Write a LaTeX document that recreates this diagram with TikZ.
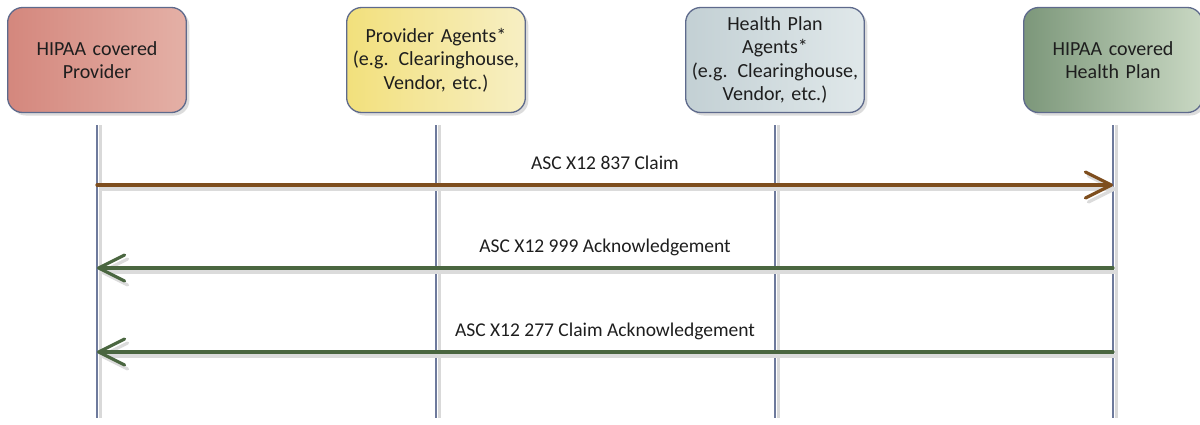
\documentclass[tikz,border=0pt]{standalone}
\usepackage{fontspec}
\setmainfont{Carlito}
\usetikzlibrary{arrows.meta,shadows,calc}
\definecolor{bordc}{HTML}{5E6A8C}
\definecolor{lifec}{HTML}{6E7A9C}
\definecolor{brownc}{HTML}{7E4E1E}
\definecolor{greenc}{HTML}{4A6640}
\definecolor{txtc}{HTML}{1E1E1E}
\definecolor{r1}{HTML}{D4877D}\definecolor{r2}{HTML}{E4B0A6}
\definecolor{y1}{HTML}{F2E07C}\definecolor{y2}{HTML}{F7EFC4}
\definecolor{b1}{HTML}{C3D0D4}\definecolor{b2}{HTML}{E0E8EA}
\definecolor{g1}{HTML}{7C977A}\definecolor{g2}{HTML}{C9D8C3}
\tikzset{
  actor/.style={draw=bordc, line width=1.3pt, rounded corners=15pt,
    minimum width=175pt, minimum height=105pt, text width=172pt, align=center,
    font=\fontsize{20}{23.5}\selectfont, text=txtc, shading angle=60,
    drop shadow={opacity=0.28, shadow xshift=3pt, shadow yshift=-3pt}},
  lifeline/.style={draw=lifec, line width=1.3pt,
    preaction={draw=black!15, line width=3pt, transform canvas={xshift=3pt}}},
  msg/.style={line width=3.2pt, -{Straight Barb[length=26pt, width=26pt, line width=3.2pt, round]},
    line cap=round,
    preaction={draw=black!14, line width=3.5pt, transform canvas={xshift=3pt,yshift=-4pt}}},
  lbl/.style={font=\fontsize{19.5}{22}\selectfont, text=txtc}
}
\begin{document}
\begin{tikzpicture}[x=1pt,y=1pt]
\useasboundingbox (0,0) rectangle (1200,-424);
\node[actor, left color=r1, right color=r2] (a1) at (97,-60) {HIPAA covered\\Provider};
\node[actor, left color=y1, right color=y2] (a2) at (436,-60) {Provider Agents*\\(e.g. Clearinghouse,\\Vendor, etc.)};
\node[actor, left color=b1, right color=b2] (a3) at (775,-60) {Health Plan\\Agents*\\(e.g. Clearinghouse,\\Vendor, etc.)};
\node[actor, left color=g1, right color=g2] (a4) at (1113,-60) {HIPAA covered\\Health Plan};
\foreach \i/\x in {1/97,2/436,3/775,4/1113}{
  \coordinate (t\i) at (\x,-125);
  \coordinate (b\i) at (\x,-418);
  \draw[lifeline] (t\i) -- (b\i);
}
\coordinate (m1) at (0,-185);
\coordinate (m2) at (0,-268);
\coordinate (m3) at (0,-352);
\draw[msg, brownc] (t1 |- m1) -- (t4 |- m1);
\draw[msg, greenc] (t4 |- m2) -- (t1 |- m2);
\draw[msg, greenc] (t4 |- m3) -- (t1 |- m3);
\node[lbl] (l1) at (605,-163) {ASC X12 837 Claim};
\node[lbl] (l2) at (605,-247) {ASC X12 999 Acknowledgement};
\node[lbl] (l3) at (605,-331) {ASC X12 277 Claim Acknowledgement};
\end{tikzpicture}
\end{document}
